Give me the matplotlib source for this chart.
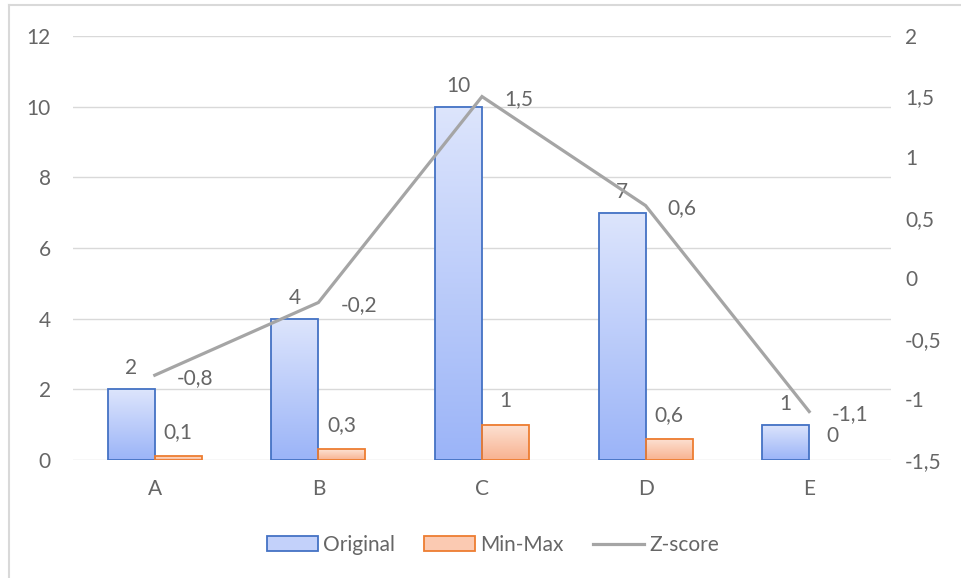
import matplotlib.pyplot as plt
import matplotlib
import numpy as np
from matplotlib.colors import LinearSegmentedColormap
from matplotlib.patches import Patch
from matplotlib.lines import Line2D
from matplotlib.ticker import FuncFormatter, MultipleLocator

categories = ['A', 'B', 'C', 'D', 'E']
original = [2, 4, 10, 7, 1]
min_max = [0.1, 0.3, 1, 0.6, 0]
z_score = [-0.8, -0.2, 1.5, 0.6, -1.1]

fs = 15
matplotlib.rc('font', family=['Lato', 'DejaVu Sans'], size=fs)
grey = '#666666'


def comma(v, pos=None):
    s = ('%g' % round(v, 2)).replace('.', ',')
    return '0' if s == '-0' else s


fig = plt.figure(figsize=(9.62, 5.78), dpi=100)
ax = fig.add_axes([73 / 962, 118 / 578, 818 / 962, 424 / 578])
ax2 = ax.twinx()
ax.set_zorder(ax2.get_zorder() - 1)
ax.patch.set_visible(False)

x = np.arange(len(categories))
w = 0.287

blue_cm = LinearSegmentedColormap.from_list('b', ['#9bb4f8', '#dde5fc'])
orange_cm = LinearSegmentedColormap.from_list('o', ['#f8b290', '#fde2d4'])
grad = np.linspace(0, 1, 256).reshape(-1, 1)


def gradient_bars(xs, hs, cmap, edge):
    for xc, h in zip(xs, hs):
        if h <= 0:
            continue
        ax.imshow(grad, extent=[xc - w / 2, xc + w / 2, 0, h], origin='lower',
                  aspect='auto', cmap=cmap, zorder=2, interpolation='bilinear')
        ax.bar(xc, h, w, facecolor='none', edgecolor=edge, linewidth=1.3, zorder=3)


gradient_bars(x - w / 2, original, blue_cm, '#4472c4')
gradient_bars(x + w / 2, min_max, orange_cm, '#ed7d31')

for xc, v in zip(x - w / 2, original):
    ax.annotate(comma(v), (xc, v), xytext=(0, 8), textcoords='offset points',
                ha='center', va='bottom', color=grey, fontsize=fs)
for xc, v in zip(x + w / 2, min_max):
    ax.annotate(comma(v), (xc, v), xytext=(0, 10), textcoords='offset points',
                ha='center', va='bottom', color=grey, fontsize=fs)

ax.set_xlim(-0.5, len(categories) - 0.5)
ax.set_ylim(0, 12)
ax.yaxis.set_major_locator(MultipleLocator(2))
ax.set_xticks(x)
ax.set_xticklabels(categories)
ax.grid(axis='y', color='#d9d9d9', linewidth=1)
ax.set_axisbelow(True)
ax.tick_params(length=0, colors=grey, labelsize=fs)
ax.tick_params(axis='y', pad=16)
ax.tick_params(axis='x', pad=14)
for s in ax.spines.values():
    s.set_visible(False)

ax2.plot(x, z_score, color='#a5a5a5', linewidth=2.3, zorder=4,
         solid_joinstyle='miter')
for xc, v in zip(x, z_score):
    ax2.annotate(comma(v), (xc, v), xytext=(16, -2), textcoords='offset points',
                 ha='left', va='center', color=grey, fontsize=fs)
ax2.set_ylim(-1.5, 2)
ax2.yaxis.set_major_locator(MultipleLocator(0.5))
ax2.yaxis.set_major_formatter(FuncFormatter(comma))
ax2.tick_params(length=0, colors=grey, labelsize=fs, pad=10)
for s in ax2.spines.values():
    s.set_visible(False)

handles = [Patch(facecolor='#c3d1fa', edgecolor='#4472c4', linewidth=1.3),
           Patch(facecolor='#fbcab2', edgecolor='#ed7d31', linewidth=1.3),
           Line2D([0], [0], color='#a5a5a5', linewidth=2.3)]
leg = fig.legend(handles, ['Original', 'Min-Max', 'Z-score'], loc='center',
                 bbox_to_anchor=(493 / 962, 1 - 545 / 578), ncol=3, frameon=False,
                 handlelength=2.45, handleheight=0.7, handletextpad=0.25,
                 columnspacing=1.4, fontsize=fs)
for t in leg.get_texts():
    t.set_color(grey)

# chart border (left and top edges visible)
fig.add_artist(Line2D([8.5 / 962, 8.5 / 962], [0, 1 - 5 / 578], color='#d9d9d9',
                      linewidth=1.5, transform=fig.transFigure))
fig.add_artist(Line2D([8.5 / 962, 1], [1 - 5 / 578, 1 - 5 / 578], color='#d9d9d9',
                      linewidth=1.5, transform=fig.transFigure))

fig.savefig('out.png', dpi=100)
